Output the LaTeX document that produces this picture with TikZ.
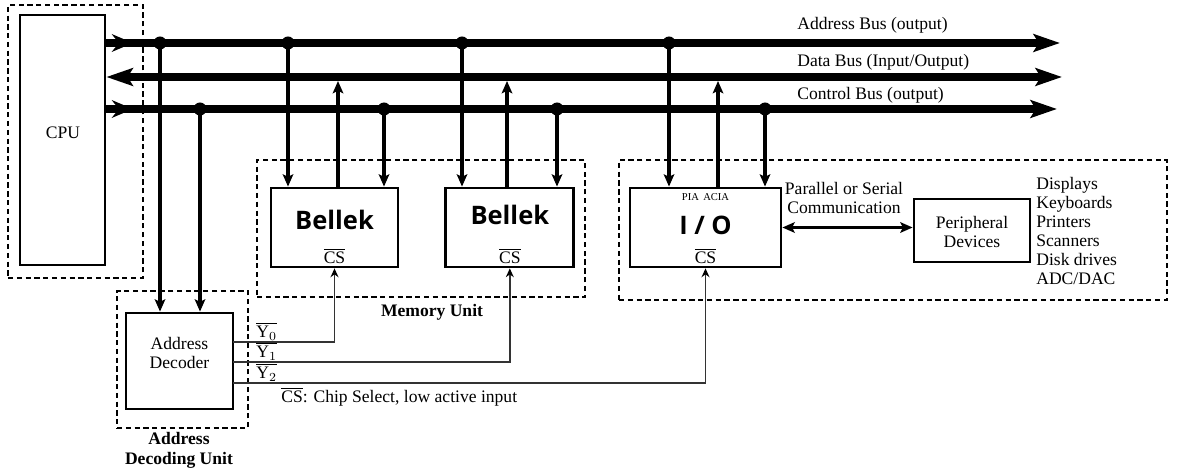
\documentclass[tikz,border=0pt]{standalone}
\usepackage{fontspec}
\setmainfont{Liberation Serif}
\newfontfamily\chipsans{Open Sans}
\usepackage{tikz}
\usetikzlibrary{arrows.meta, positioning}
\definecolor{wiregray}{HTML}{333333}
\tikzset{
    bushead/.tip={Stealth[length=15pt, width=10pt, inset=3pt]},
    taphead/.tip={Stealth[length=7pt, width=6pt, inset=1.5pt]}
}

\begin{document}
\begin{tikzpicture}[
    x=0.2mm, y=-0.2mm,
    every node/.style={font=\fontsize{10}{11}\selectfont, inner sep=0pt},
    block/.style={rectangle, draw, line width=1.6pt},
    unit/.style={rectangle, draw, line width=1.1pt, dash pattern=on 3pt off 2pt},
    bus/.style={line width=4pt, -bushead},
    tap/.style={line width=2.4pt, -taphead},
    sel/.style={line width=0.8pt, color=wiregray, -{Stealth[length=5pt, width=4.5pt, black]}},
    link/.style={line width=2pt, taphead-taphead},
    junction/.style={circle, fill, minimum size=2.6mm},
    title/.style={font=\fontsize{10}{11.5}\selectfont\bfseries, align=center},
    chip/.style={font=\chipsans\fontsize{14.5}{16}\selectfont\bfseries}
]
\useasboundingbox (0,0) rectangle (1177,473);

% dashed units
\node[unit, minimum width=27mm, minimum height=54.6mm] (cpuUnit) at (75.5,141.5) {};
\node[unit, minimum width=65.6mm, minimum height=27.4mm] (memUnit) at (421,228.5) {};
\node[unit, minimum width=109.6mm, minimum height=28mm] (ioUnit) at (893,230) {};
\node[unit, minimum width=26.2mm, minimum height=27.4mm] (decUnit) at (182.5,359.5) {};

% blocks
\node[block, minimum width=17mm, minimum height=50mm] (cpu) at (62.5,140) {};
\node (cpuText) at (63,133) {CPU};
\node[block, minimum width=25.4mm, minimum height=15.8mm] (bellekA) at (334.5,227.5) {};
\node[block, minimum width=25.6mm, minimum height=15.8mm, right=9mm of bellekA] (bellekB) {};
\node[block, minimum width=30.2mm, minimum height=15.8mm] (io) at (705.5,227.5) {};
\node[block, minimum width=23.2mm, minimum height=12.6mm] (per) at (972,230.5) {};
\node[block, minimum width=21.4mm, minimum height=19.2mm] (dec) at (179.5,361) {};

\node[chip] (bellekAText) at ([yshift=1.5mm]bellekA.center) {Bellek};
\node[chip] (bellekBText) at ([yshift=2.5mm]bellekB.center) {Bellek};
\node[chip] (ioText) at ([yshift=0.5mm]io.center) {I / O};
\node[font=\fontsize{6}{7}\selectfont] (pia) at ([yshift=6.1mm]io.center) {PIA\, ACIA};
\node (csA) at ([yshift=2.4mm]bellekA.south) {$\overline{\mbox{CS}}$};
\node (csB) at ([yshift=2.4mm]bellekB.south) {$\overline{\mbox{CS}}$};
\node (csIO) at ([yshift=2.4mm]io.south) {$\overline{\mbox{CS}}$};
\node[align=center] (decText) at (179.5,353) {Address\\Decoder};
\node[align=center, font=\fontsize{10}{10.8}\selectfont] (perText) at (972,232) {Peripheral\\Devices};

% buses
\coordinate (aEnd) at (1060,43);
\coordinate (dEnd) at (1062,77);
\coordinate (cEnd) at (1057,109);
\draw[bus] (cpu.east |- aEnd) -- (aEnd);
\draw[bus, bushead-bushead] (cpu.east |- dEnd) -- (dEnd);
\draw[bus] (cpu.east |- cEnd) -- (cEnd);
\draw[line width=4pt, -{Stealth[length=12pt, width=10pt, inset=4pt]}] (cpu.east |- aEnd) -- (133,43);
\draw[line width=4pt, -{Stealth[length=12pt, width=10pt, inset=4pt]}] (cpu.east |- cEnd) -- (133,109);

\node[anchor=west] (aLabel) at (797,25) {Address Bus (output)};
\node[anchor=west] (dLabel) at (797,62) {Data Bus (Input/Output)};
\node[anchor=west] (cLabel) at (797,95) {Control Bus (output)};

% junctions on address and control bus
\node[junction] (ja0) at (160,43) {};
\node[junction] (ja1) at (288,43) {};
\node[junction] (ja2) at (462,43) {};
\node[junction] (ja3) at (669,43) {};
\node[junction] (jc0) at (200,109) {};
\node[junction] (jc1) at (384,109) {};
\node[junction] (jc2) at (557,109) {};
\node[junction] (jc3) at (765,109) {};
\coordinate (jd1) at (338,81);
\coordinate (jd2) at (507,81);
\coordinate (jd3) at (718,81);

\draw[tap] (ja0.center) -- (ja0 |- dec.north);
\draw[tap] (jc0.center) -- (jc0 |- dec.north);
\draw[tap] (ja1.center) -- (ja1 |- bellekA.north);
\draw[tap] (bellekA.north -| jd1) -- (jd1);
\draw[tap] (jc1.center) -- (jc1 |- bellekA.north);
\draw[tap] (ja2.center) -- (ja2 |- bellekB.north);
\draw[tap] (bellekB.north -| jd2) -- (jd2);
\draw[tap] (jc2.center) -- (jc2 |- bellekB.north);
\draw[tap] (ja3.center) -- (ja3 |- io.north);
\draw[tap] (io.north -| jd3) -- (jd3);
\draw[tap] (jc3.center) -- (jc3 |- io.north);

% I/O to peripherals
\draw[link] (io.east) -- (io.east -| per.west);
\node[align=center, font=\fontsize{10}{11.3}\selectfont] (commText) at (844,198) {Parallel or Serial\\Communication};
\node[anchor=west, align=left, font=\fontsize{10}{10.8}\selectfont] (devList) at (1036,231)
    {Displays\\Keyboards\\Printers\\Scanners\\Disk drives\\ADC/DAC};

% chip select lines
\coordinate (y0) at (233,342);
\coordinate (y1) at (233,362);
\coordinate (y2) at (233,383);
\draw[sel] (y0) -| (bellekA.south);
\draw[sel] (y1) -| (bellekB.south);
\draw[sel] (y2) -| (io.south);
\node[anchor=south west] (y0Label) at ([xshift=4.6mm, yshift=0.3mm]y0) {$\overline{\mbox{Y}_0}$};
\node[anchor=south west] (y1Label) at ([xshift=4.6mm, yshift=0.3mm]y1) {$\overline{\mbox{Y}_1}$};
\node[anchor=south west] (y2Label) at ([xshift=4.6mm, yshift=0.3mm]y2) {$\overline{\mbox{Y}_2}$};
\node[anchor=west] (csNote) at (281,397) {$\overline{\mbox{CS}}$: Chip Select, low active input};

% unit titles
\node[title] (memLabel) at (432,312) {Memory Unit};
\node[title] (decLabel) at (179,450) {Address\\Decoding Unit};

\end{tikzpicture}
\end{document}
